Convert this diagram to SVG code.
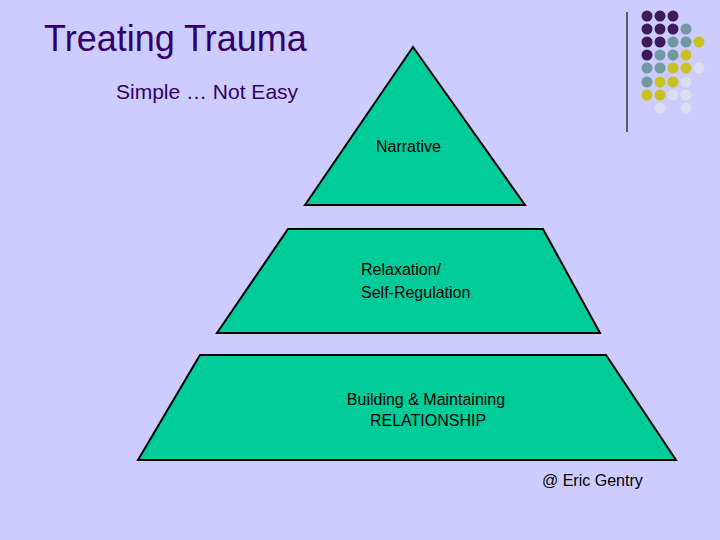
<svg xmlns="http://www.w3.org/2000/svg" width="720" height="540" viewBox="0 0 720 540">
<style>
.t{font-family:"Liberation Sans",Arial,sans-serif;fill:#000}
.lv{fill:#00cc99;stroke:#000;stroke-width:2}
.p{fill:#3d1a5c}.g{fill:#7299a3}.y{fill:#c9c21e}.l{fill:#dedef2}
</style>
<rect width="720" height="540" fill="#ccccff"/>
<text x="44" y="51" class="t" font-size="36" fill="#330066" style="fill:#330066">Treating Trauma</text>
<text x="116" y="99" class="t" font-size="21" style="fill:#330066">Simple … Not Easy</text>
<line x1="627" y1="12" x2="627" y2="132" stroke="#333" stroke-width="1.5"/>
<g>
<circle cx="647" cy="16" r="5.5" class="p"/><circle cx="660" cy="16" r="5.5" class="p"/><circle cx="673" cy="16" r="5.5" class="p"/>
<circle cx="647" cy="29" r="5.5" class="p"/><circle cx="660" cy="29" r="5.5" class="p"/><circle cx="673" cy="29" r="5.5" class="p"/><circle cx="686" cy="29" r="5.5" class="g"/>
<circle cx="647" cy="42" r="5.5" class="p"/><circle cx="660" cy="42" r="5.5" class="p"/><circle cx="673" cy="42" r="5.5" class="g"/><circle cx="686" cy="42" r="5.5" class="g"/><circle cx="699" cy="42" r="5.5" class="y"/>
<circle cx="647" cy="55" r="5.5" class="p"/><circle cx="660" cy="55" r="5.5" class="g"/><circle cx="673" cy="55" r="5.5" class="g"/><circle cx="686" cy="55" r="5.5" class="y"/>
<circle cx="647" cy="68" r="5.5" class="g"/><circle cx="660" cy="68" r="5.5" class="g"/><circle cx="673" cy="68" r="5.5" class="y"/><circle cx="686" cy="68" r="5.5" class="y"/><circle cx="699" cy="68" r="5.5" class="l"/>
<circle cx="647" cy="82" r="5.5" class="g"/><circle cx="660" cy="82" r="5.5" class="y"/><circle cx="673" cy="82" r="5.5" class="y"/><circle cx="686" cy="82" r="5.5" class="l"/>
<circle cx="647" cy="95" r="5.5" class="y"/><circle cx="660" cy="95" r="5.5" class="y"/><circle cx="673" cy="95" r="5.5" class="l"/><circle cx="686" cy="95" r="5.5" class="l"/>
<circle cx="660" cy="108" r="5.5" class="l"/><circle cx="686" cy="108" r="5.5" class="l"/>
</g>
<g id="narrative">
<polygon class="lv" points="413,47 525,205 305,205"/>
<text x="376" y="152" class="t" font-size="16">Narrative</text>
</g>
<g id="relaxation">
<polygon class="lv" points="288,229 543,229 600,333 217,333"/>
<text x="361" y="275" class="t" font-size="16">Relaxation/</text>
<text x="361" y="298" class="t" font-size="16">Self-Regulation</text>
</g>
<g id="relationship">
<polygon class="lv" points="200,355 606,355 676,460 138,460"/>
<text x="426" y="405" class="t" font-size="16" text-anchor="middle">Building &amp; Maintaining</text>
<text x="428" y="426" class="t" font-size="16" text-anchor="middle">RELATIONSHIP</text>
</g>
<g id="connectors"/>
<text x="542" y="486" class="t" font-size="16">@ Eric Gentry</text>
</svg>
